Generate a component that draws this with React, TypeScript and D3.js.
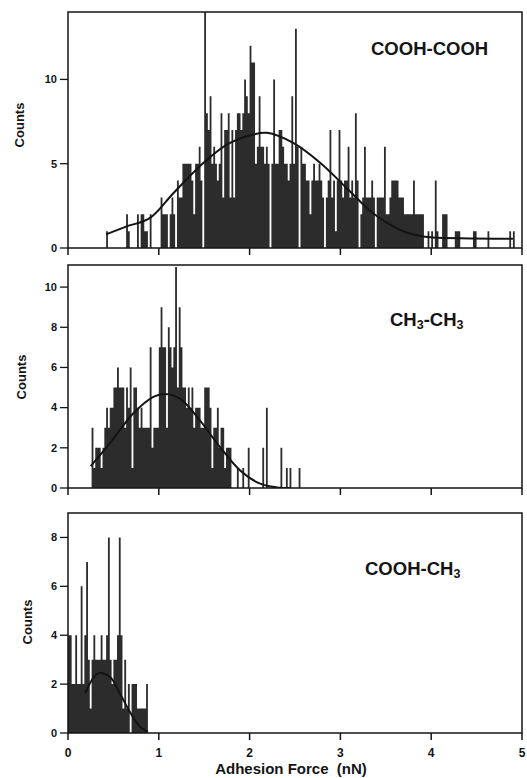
import * as d3 from 'd3';

// histogram bin width (nN) shared by the three panels
const binWidth = 0.02;
const forceTicks = [0, 1, 2, 3, 4, 5];

// COOH-COOH, bins from 0.40 nN
const coohCoohStart = 0.4;
const coohCoohCounts = [
  0, 1, 0, 0, 0, 0, 0, 0, 0, 0,
  0, 0, 2, 1, 0, 0, 0, 0, 2, 0,
  2, 2, 1, 1, 0, 2, 0, 0, 0, 0,
  0, 3, 2, 2, 2, 0, 2, 3, 2, 0,
  4, 3, 3, 5, 5, 5, 5, 5, 4, 2,
  5, 5, 6, 4, 0, 14, 8, 7, 9, 5,
  6, 5, 4, 5, 8, 3, 7, 7, 8, 3,
  7, 3, 7, 8, 8, 7, 8, 10, 9, 8,
  12, 11, 11, 5, 6, 9, 6, 6, 5, 6,
  5, 0, 5, 10, 5, 5, 7, 7, 6, 5,
  5, 4, 5, 9, 5, 13, 6, 0, 6, 5,
  5, 4, 4, 2, 4, 5, 4, 4, 5, 4,
  3, 0, 3, 4, 7, 3, 4, 1, 4, 7,
  4, 3, 4, 4, 6, 3, 4, 3, 8, 4,
  0, 2, 3, 6, 3, 3, 3, 4, 3, 0,
  3, 3, 3, 3, 6, 2, 2, 3, 4, 4,
  4, 4, 3, 3, 3, 2, 2, 2, 2, 2,
  4, 2, 2, 2, 2, 2, 0, 0, 1, 0,
  1, 0, 4, 1, 0, 0, 2, 2, 2, 0,
  0, 0, 0, 1, 1, 1, 0, 0, 0, 0,
  0, 0, 0, 1, 1, 0, 0, 0, 0, 0,
  0, 1, 0, 0, 0, 0, 0, 0, 0, 0,
  0, 0, 0, 1, 0, 1, 0, 0, 0, 0,
];
const coohCoohFit: [number, number][] = [
  [0.42, 0.81], [0.64, 1.27], [0.9, 1.77], [1.16, 3.25], [1.45, 4.84],
  [1.75, 6.13], [2.04, 6.73], [2.19, 6.83], [2.48, 6.23], [2.78, 5.04],
  [3.07, 3.55], [3.36, 2.06], [3.66, 1.07], [3.88, 0.71], [4.02, 0.63],
  [4.9, 0.55],
];

// CH3-CH3, bins from 0.24 nN
const ch3Ch3Start = 0.24;
const ch3Ch3Counts = [
  0, 3, 1, 2, 2, 2, 1, 2, 3, 4,
  3, 4, 4, 5, 5, 6, 5, 5, 5, 3,
  5, 4, 6, 1, 5, 5, 4, 3, 4, 3,
  3, 3, 3, 7, 2, 3, 3, 3, 7, 9,
  7, 7, 3, 8, 7, 6, 7, 11, 5, 9,
  7, 5, 5, 4, 5, 4, 5, 3, 4, 4,
  4, 3, 3, 5, 5, 5, 4, 1, 3, 3,
  4, 2, 3, 3, 1, 2, 2, 2, 0, 0,
  0, 1, 0, 0, 1, 0, 0, 2, 0, 0,
  0, 0, 0, 0, 0, 2, 0, 4, 0, 0,
  0, 0, 0, 0, 0, 2, 0, 0, 1, 0,
  1, 0, 0, 0, 0, 1, 0,
];
const ch3Ch3Fit: [number, number][] = [
  [0.25, 1.09], [0.46, 2.22], [0.72, 3.72], [0.94, 4.54], [1.07, 4.68],
  [1.23, 4.46], [1.45, 3.38], [1.67, 2.06], [1.89, 0.9], [2.11, 0.23],
  [2.3, 0.03], [2.45, 0],
];

// COOH-CH3, bins from 0 nN
const coohCh3Start = 0;
const coohCh3Counts = [
  4, 4, 2, 2, 4, 2, 2, 6, 2, 4,
  7, 3, 1, 3, 4, 3, 3, 3, 4, 3,
  3, 4, 8, 3, 2, 3, 3, 4, 8, 4,
  1, 3, 1, 2, 0, 2, 2, 2, 1, 1,
  1, 1, 1, 2, 0,
];
const coohCh3Fit: [number, number][] = [
  [0.19, 1.63], [0.33, 2.44], [0.46, 2.3], [0.57, 1.63], [0.68, 0.87],
  [0.79, 0.26], [0.88, 0.05],
];

const panels = [
  {
    id: 'p1', label: 'COOH-COOH', labelX: 371, labelY: 55,
    start: coohCoohStart, counts: coohCoohCounts, fit: coohCoohFit,
    yMax: 14, yTicks: [0, 5, 10], top: 12, bottom: 248, countsX: 19, countsY: 125,
  },
  {
    id: 'p2', label: 'CH3-CH3', labelX: 390, labelY: 326,
    start: ch3Ch3Start, counts: ch3Ch3Counts, fit: ch3Ch3Fit,
    yMax: 11.1, yTicks: [0, 2, 4, 6, 8, 10], top: 265, bottom: 488, countsX: 21, countsY: 377,
  },
  {
    id: 'p3', label: 'COOH-CH3', labelX: 365, labelY: 575,
    start: coohCh3Start, counts: coohCh3Counts, fit: coohCh3Fit,
    yMax: 9, yTicks: [0, 2, 4, 6, 8], top: 513, bottom: 733, countsX: 27, countsY: 622,
  },
];

const font = '"Liberation Sans", Arial, Helvetica, sans-serif';
const ink = '#141414';
const x = d3.scaleLinear().domain([0, 5]).range([68, 522]);

// digits in the chemistry labels become subscripts
const Label = ({ text, lx, ly }) => {
  const parts = text.split(/(\d)/).filter((s) => s.length);
  return (
    <text x={lx} y={ly} fontFamily={font} fontWeight="bold" fontSize={18.5} fill={ink}>
      {parts.map((s, i) =>
        /\d/.test(s) ? (
          <tspan key={i} fontSize={12.5} dy={3}>{s}</tspan>
        ) : (
          <tspan key={i} dy={i > 0 ? -3 : 0}>{s}</tspan>
        )
      )}
    </text>
  );
};

const Panel = ({ p, last }) => {
  const y = d3.scaleLinear().domain([0, p.yMax]).range([p.bottom, p.top]);
  const line = d3
    .line<[number, number]>()
    .x((d) => x(d[0]))
    .y((d) => y(d[1]))
    .curve(d3.curveCatmullRom);
  // one step-shaped area per histogram so neighbouring bins have no seams
  const steps: [number, number][] = p.counts.map((c, i) => [p.start + i * binWidth, c]);
  steps.push([p.start + p.counts.length * binWidth, p.counts[p.counts.length - 1]]);
  const area = d3
    .area<[number, number]>()
    .x((d) => x(d[0]))
    .y0(y(0))
    .y1((d) => y(d[1]))
    .curve(d3.curveStepAfter);
  const [x0, x1] = x.range();

  return (
    <g>
      <clipPath id={`clip-${p.id}`}>
        <rect x={x0} y={p.top} width={x1 - x0} height={p.bottom - p.top} />
      </clipPath>
      <g clipPath={`url(#clip-${p.id})`}>
        <path d={area(steps)} fill="#2c2c2c" />
        <path d={line(p.fit)} fill="none" stroke={ink} strokeWidth={2} />
      </g>
      <rect
        x={x0}
        y={p.top}
        width={x1 - x0}
        height={p.bottom - p.top}
        fill="none"
        stroke={ink}
        strokeWidth={1.5}
      />
      {p.yTicks.map((t) => (
        <g key={t}>
          <line x1={x0 - 8} x2={x0} y1={y(t)} y2={y(t)} stroke={ink} strokeWidth={1.3} />
          <text
            x={x0 - 11}
            y={y(t)}
            dy="0.35em"
            textAnchor="end"
            fontFamily={font}
            fontWeight="bold"
            fontSize={11}
            fill={ink}
          >
            {t}
          </text>
        </g>
      ))}
      {forceTicks.map((t) => (
        <g key={t}>
          <line x1={x(t)} x2={x(t)} y1={p.bottom} y2={p.bottom + 7} stroke={ink} strokeWidth={1.5} />
          {last && (
            <text
              x={x(t)}
              y={p.bottom + 24}
              textAnchor="middle"
              fontFamily={font}
              fontWeight="bold"
              fontSize={12}
              fill={ink}
            >
              {t}
            </text>
          )}
        </g>
      ))}
      <text
        transform={`translate(${p.countsX},${p.countsY}) rotate(-90)`}
        dy="0.35em"
        textAnchor="middle"
        fontFamily={font}
        fontWeight="bold"
        fontSize={13}
        fill={ink}
      >
        Counts
      </text>
      <Label text={p.label} lx={p.labelX} ly={p.labelY} />
    </g>
  );
};

export default function App() {
  return (
    <svg
      width={527}
      height={778}
      style={{ position: 'absolute', left: 0, top: 0, background: '#fff' }}
    >
      <rect width={527} height={778} fill="#fff" />
      {panels.map((p, i) => (
        <Panel key={p.id} p={p} last={i === panels.length - 1} />
      ))}
      <text
        x={291}
        y={774}
        textAnchor="middle"
        fontFamily={font}
        fontWeight="bold"
        fontSize={15}
        fill={ink}
      >
        {'Adhesion Force\u00a0\u00a0(nN)'}
      </text>
    </svg>
  );
}
